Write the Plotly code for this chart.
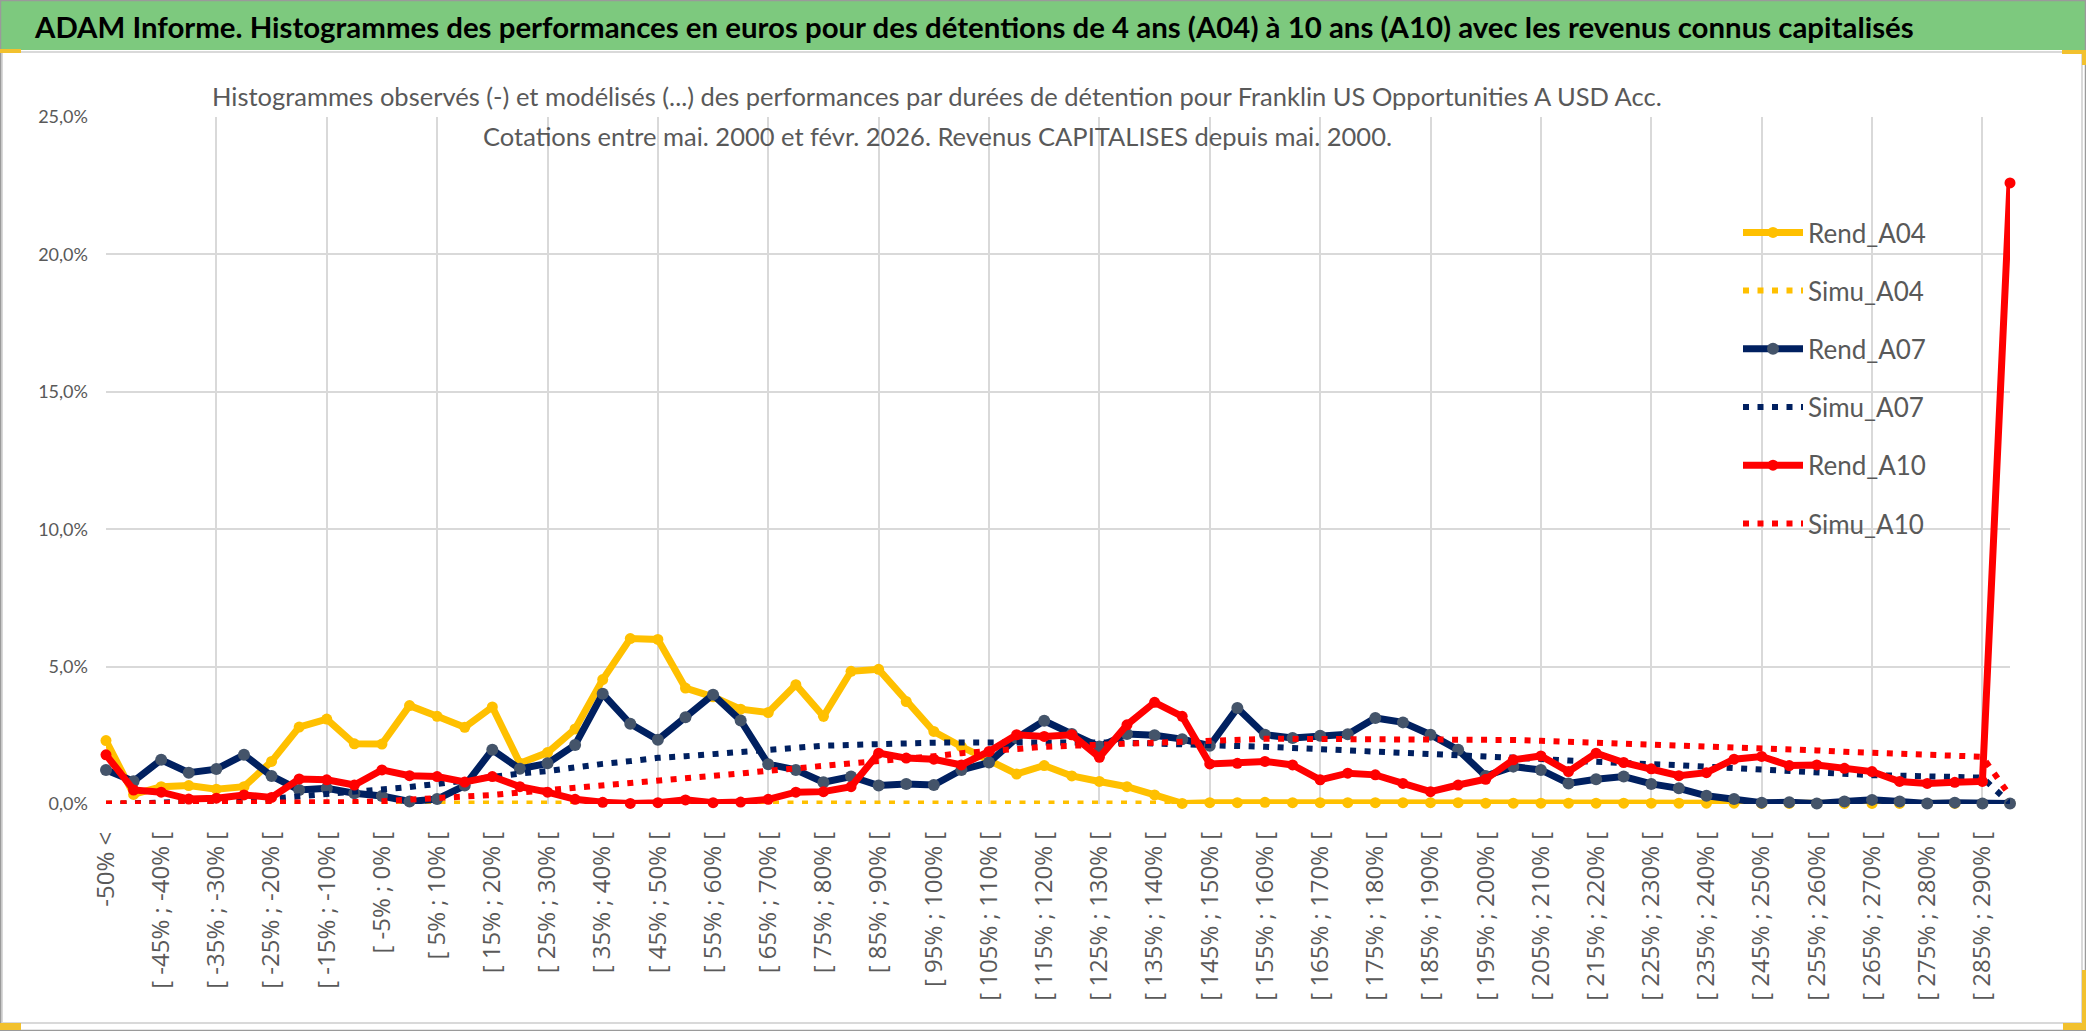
import plotly.graph_objects as go

# ---------------- data (values in %) ----------------
categories = ["-50% <"] + [f"[ {lo}% ; {lo + 5}% [" for lo in range(-50, 290, 5)] + ["> 290%"]

rend_a04 = [2.31, 0.35, 0.63, 0.67, 0.54, 0.63, 1.55, 2.80, 3.09, 2.19,
            2.18, 3.58, 3.19, 2.79, 3.53, 1.48, 1.87, 2.73, 4.53, 6.02,
            5.99, 4.22, 3.90, 3.45, 3.33, 4.34, 3.19, 4.83, 4.90, 3.73,
            2.64, 2.09, 1.61, 1.09, 1.40, 1.02, 0.82, 0.63, 0.33, 0.02,
            0.05, 0.05, 0.06, 0.05, 0.05, 0.05, 0.05, 0.05, 0.05, 0.05,
            0.03, 0.03, 0.03, 0.03, 0.03, 0.03, 0.03, 0.03, 0.03, 0.03,
            0.02, 0.02, 0.02, 0.02, 0.02, 0.02, 0.02, 0.02, 0.02, 0.02]

simu_a04 = [0.02, 0.02, 0.02, 0.02, 0.02, 0.02, 0.02, 0.02, 0.02, 0.02,
            0.02, 0.02, 0.02, 0.02, 0.02, 0.02, 0.02, 0.02, 0.02, 0.02,
            0.02, 0.02, 0.02, 0.02, 0.02, 0.02, 0.02, 0.02, 0.02, 0.02,
            0.02, 0.02, 0.02, 0.02, 0.02, 0.02, 0.02, 0.02, 0.02, 0.02,
            0.02, 0.02, 0.02, 0.02, 0.02, 0.02, 0.02, 0.02, 0.02, 0.02,
            0.02, 0.02, 0.02, 0.02, 0.02, 0.02, 0.02, 0.02, 0.02, 0.02,
            0.02, 0.02, 0.02, 0.02, 0.02, 0.02, 0.02, 0.02, 0.02, 0.02]

rend_a07 = [1.24, 0.83, 1.61, 1.14, 1.27, 1.79, 1.02, 0.51, 0.57, 0.39,
            0.29, 0.09, 0.18, 0.67, 1.97, 1.28, 1.48, 2.15, 4.01, 2.92,
            2.34, 3.16, 3.98, 3.04, 1.45, 1.24, 0.79, 1.00, 0.67, 0.73,
            0.69, 1.24, 1.51, 2.40, 3.03, 2.55, 2.09, 2.55, 2.50, 2.36,
            2.12, 3.49, 2.52, 2.40, 2.48, 2.54, 3.13, 2.97, 2.52, 1.97,
            1.02, 1.36, 1.24, 0.75, 0.90, 1.00, 0.73, 0.57, 0.30, 0.18,
            0.05, 0.06, 0.02, 0.09, 0.15, 0.09, 0.02, 0.05, 0.02, 0.02]

simu_a07 = [0.00, 0.02, 0.04, 0.06, 0.09, 0.13, 0.19, 0.27, 0.36, 0.44,
            0.52, 0.62, 0.73, 0.86, 1.00, 1.11, 1.20, 1.34, 1.46, 1.56,
            1.68, 1.74, 1.81, 1.90, 2.00, 2.06, 2.12, 2.15, 2.19, 2.21,
            2.23, 2.24, 2.25, 2.25, 2.25, 2.25, 2.24, 2.23, 2.21, 2.18,
            2.14, 2.10, 2.08, 2.04, 2.00, 1.96, 1.90, 1.84, 1.80, 1.76,
            1.73, 1.69, 1.64, 1.58, 1.52, 1.47, 1.45, 1.41, 1.36, 1.29,
            1.22, 1.17, 1.13, 1.08, 1.05, 1.03, 1.01, 1.00, 0.96, 0.02]

rend_a10 = [1.79, 0.51, 0.43, 0.18, 0.21, 0.33, 0.24, 0.91, 0.88, 0.69,
            1.24, 1.03, 1.00, 0.80, 1.00, 0.63, 0.43, 0.17, 0.06, 0.02,
            0.05, 0.15, 0.05, 0.07, 0.17, 0.43, 0.45, 0.63, 1.85, 1.67,
            1.63, 1.42, 1.91, 2.52, 2.46, 2.52, 1.70, 2.88, 3.70, 3.19,
            1.46, 1.48, 1.55, 1.42, 0.88, 1.12, 1.06, 0.75, 0.45, 0.69,
            0.90, 1.61, 1.75, 1.18, 1.85, 1.51, 1.28, 1.03, 1.14, 1.63,
            1.73, 1.40, 1.42, 1.30, 1.18, 0.82, 0.75, 0.79, 0.82, 22.60]

simu_a10 = [0.02, 0.02, 0.02, 0.02, 0.02, 0.03, 0.03, 0.04, 0.05, 0.07,
            0.10, 0.15, 0.20, 0.26, 0.33, 0.42, 0.50, 0.58, 0.66, 0.75,
            0.83, 0.91, 1.01, 1.11, 1.21, 1.29, 1.38, 1.47, 1.54, 1.63,
            1.74, 1.85, 1.94, 2.03, 2.08, 2.12, 2.16, 2.20, 2.25, 2.28,
            2.32, 2.35, 2.37, 2.37, 2.37, 2.37, 2.37, 2.37, 2.37, 2.36,
            2.35, 2.33, 2.30, 2.27, 2.24, 2.20, 2.15, 2.12, 2.09, 2.07,
            2.04, 1.98, 1.95, 1.90, 1.87, 1.82, 1.80, 1.77, 1.72, 0.30]

y_ticks = [0, 5, 10, 15, 20, 25]
y_tick_labels = ["0,0%", "5,0%", "10,0%", "15,0%", "20,0%", "25,0%"]

banner_text = ("ADAM Informe. Histogrammes des performances en euros pour des détentions "
               "de 4 ans (A04) à 10 ans (A10) avec les revenus connus capitalisés")
title_line1 = ("Histogrammes observés (-) et modélisés (...) des performances par durées "
               "de détention pour Franklin US Opportunities A USD Acc.")
title_line2 = "Cotations entre mai. 2000 et févr. 2026. Revenus CAPITALISES depuis mai. 2000."

# ---------------- layout geometry ----------------
W, H = 2086, 1031
ML, MR, MT, MB = 106, 76, 117, 227
PW = W - ML - MR
PH = H - MT - MB


def px(x):
    return (x - ML) / PW


def py(y):
    return (H - MB - y) / PH


GRAY_TXT = "#595959"
GRID = "#D9D9D9"
YELLOW = "#FFC000"
NAVY = "#002060"
NAVY_MK = "#44546A"
RED = "#FF0000"

fig = go.Figure()

series = [
    ("Rend_A04", rend_a04, YELLOW, YELLOW, True),
    ("Simu_A04", simu_a04, YELLOW, YELLOW, False),
    ("Rend_A07", rend_a07, NAVY, NAVY_MK, True),
    ("Simu_A07", simu_a07, NAVY, NAVY, False),
    ("Rend_A10", rend_a10, RED, RED, True),
    ("Simu_A10", simu_a10, RED, RED, False),
]

for name, vals, col, mcol, observed in series:
    if observed:
        fig.add_trace(go.Scatter(
            x=categories, y=vals, name=name, legendgroup=name,
            mode="lines+markers",
            line=dict(color=col, width=7),
            marker=dict(color=mcol, size=12 if mcol == NAVY_MK else 11),
            cliponaxis=False,
        ))
    else:
        fig.add_trace(go.Scatter(
            x=categories, y=vals, name=name, legendgroup=name,
            mode="lines",
            line=dict(color=col, width=6, dash="6px,8.5px"),
            cliponaxis=False,
        ))

# helper trace for the secondary x axis carrying the vertical gridlines
fig.add_trace(go.Scatter(x=[0], y=[None], xaxis="x2", showlegend=False,
                         hoverinfo="skip", mode="markers"))

shapes = [
    # green banner
    dict(type="rect", xref="paper", yref="paper", x0=px(0), x1=px(W), y0=py(50), y1=py(0),
         fillcolor="#7DC97E", line=dict(width=0), layer="below"),
    # chart border
    dict(type="rect", xref="paper", yref="paper", x0=px(2), x1=px(2082), y0=py(1023), y1=py(52),
         line=dict(color=GRID, width=2), fillcolor="rgba(0,0,0,0)", layer="above"),
    # outer frame
    dict(type="rect", xref="paper", yref="paper", x0=px(0.5), x1=px(W - 0.5), y0=py(H - 0.5), y1=py(0.5),
         line=dict(color="#9A9A9A", width=1.5), fillcolor="rgba(0,0,0,0)", layer="above"),
    # title background (hides gridlines)
    dict(type="rect", xref="paper", yref="paper", x0=px(200), x1=px(1676), y0=py(159), y1=py(116),
         fillcolor="white", line=dict(width=0), layer="between"),
    # legend background (hides gridlines)
    dict(type="rect", xref="paper", yref="paper", x0=px(1677), x1=px(1988), y0=py(550), y1=py(203),
         fillcolor="white", line=dict(width=0), layer="between"),
]
# yellow selection corner marks
for (a, b, c, d) in [(0, 21, 49, 53), (2062, 2086, 50, 54), (2082, 2086, 50, 65),
                     (2063, 2086, 1023, 1030), (2082, 2086, 970, 1030), (0, 21, 1023, 1030)]:
    shapes.append(dict(type="rect", xref="paper", yref="paper", x0=px(a), x1=px(b),
                       y0=py(d), y1=py(c), fillcolor="#F2C12E", line=dict(width=0), layer="above"))

annotations = [
    dict(text=banner_text, xref="paper", yref="paper", x=px(32), y=py(27),
         xanchor="left", yanchor="middle", showarrow=False,
         font=dict(family="Lato", size=29.4, color="black", weight=700)),
    dict(text=title_line1, xref="paper", yref="paper", x=px(937), y=py(96),
         xanchor="center", yanchor="middle", showarrow=False,
         font=dict(family="Lato", size=25.5, color=GRAY_TXT)),
    dict(text=title_line2, xref="paper", yref="paper", x=px(937), y=py(136),
         xanchor="center", yanchor="middle", showarrow=False,
         font=dict(family="Lato", size=25.5, color=GRAY_TXT)),
]

fig.update_layout(
    width=W, height=H, autosize=False,
    margin=dict(l=ML, r=MR, t=MT, b=MB),
    paper_bgcolor="white", plot_bgcolor="white",
    showlegend=True,
    legend=dict(
        x=px(1738), y=py(209), xanchor="left", yanchor="top",
        bgcolor="rgba(0,0,0,0)", borderwidth=0,
        font=dict(family="Lato", size=26, color=GRAY_TXT),
        traceorder="grouped", tracegroupgap=21.4,
        itemwidth=60,
    ),
    xaxis=dict(
        type="category", categoryorder="array", categoryarray=categories,
        range=[0, len(categories) - 1],
        tickmode="array", tickvals=categories[::2], ticktext=categories[::2],
        tickangle=-90, showgrid=False, zeroline=False, showline=False,
        ticks="", ticklabelstandoff=22,
        tickfont=dict(family="Open Sans", size=24, color=GRAY_TXT),
    ),
    xaxis2=dict(
        overlaying="x", range=[0, len(categories) - 1], side="bottom",
        tickmode="array", tickvals=list(range(0, len(categories), 4)),
        showticklabels=False, showgrid=True, gridcolor=GRID, gridwidth=1.5,
        zeroline=False, showline=False, ticks="",
    ),
    yaxis=dict(
        range=[0, 25], tickmode="array", tickvals=y_ticks, ticktext=y_tick_labels,
        showgrid=True, gridcolor=GRID, gridwidth=1.5,
        zeroline=False, showline=False, ticks="", ticklabelstandoff=17,
        tickfont=dict(family="Lato", size=18, color=GRAY_TXT),
    ),
    shapes=shapes,
    annotations=annotations,
    hovermode="closest",
)

fig.write_html(
    "out.html",
    config={"displayModeBar": False},
    post_script="document.body.style.margin='0';document.body.style.overflow='hidden';",
)
